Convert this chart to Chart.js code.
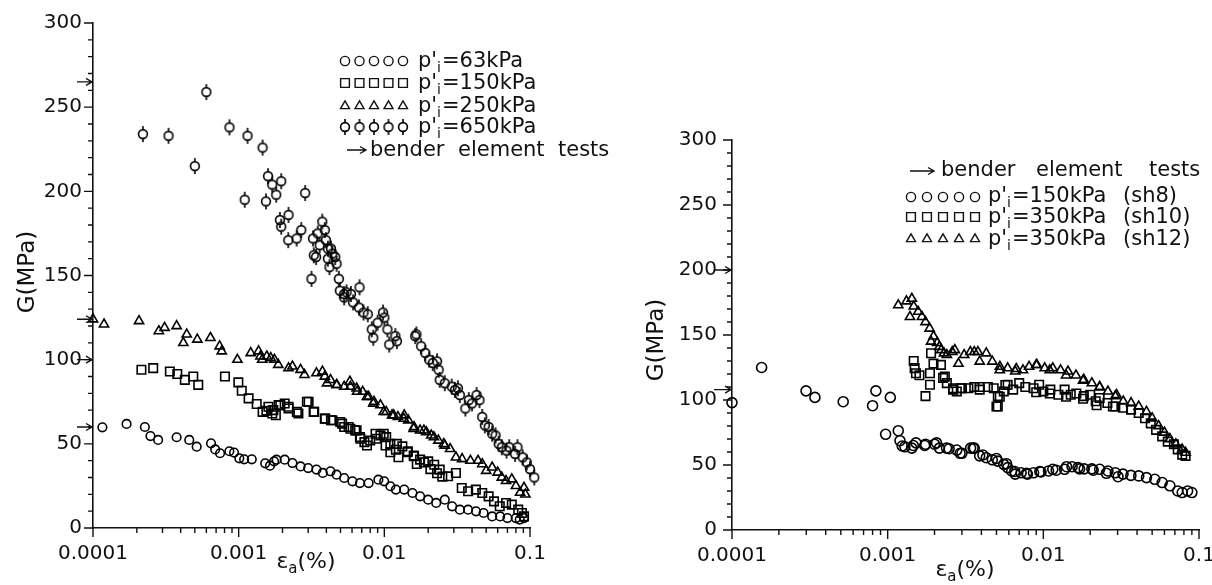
<!DOCTYPE html>
<html>
<head>
<meta charset="utf-8">
<script src="https://cdn.jsdelivr.net/npm/chart.js@4.4.0/dist/chart.umd.min.js"></script>
<style>
html, body { margin: 0; padding: 0; background: #fff; overflow: hidden; width: 1212px; height: 585px; }
.box { position: absolute; top: 0; height: 585px; }
#left { left: 0; width: 640px; }
#right { left: 612px; width: 600px; }
</style>
</head>
<body>
<div class="box" id="left"><canvas id="cLeft"></canvas></div>
<div class="box" id="right"><canvas id="cRight"></canvas></div>
<script>
// axis ticks
const xDecades = [0.0001, 0.001, 0.01, 0.1];
const xTickLabels = ['0.0001', '0.001', '0.01', '0.1'];
const yTicks = [0, 50, 100, 150, 200, 250, 300];

// left panel, [strain %, G MPa]
const left63 = [[1.16e-4,59.8],[1.7e-4,61.8],[2.27e-4,60],[2.48e-4,54.6],[2.8e-4,52.3],[3.75e-4,53.9],[4.58e-4,52.3],[5.15e-4,48.3],
  [6.46e-4,50.3],[6.9e-4,46.7],[7.45e-4,44.4],[8.63e-4,45.6],[9.3e-4,44.8],[1.01e-3,41.4],[1.09e-3,40.8],[1.23e-3,40.8],[1.52e-3,38.4],
  [1.64e-3,37],[1.75e-3,39.6],[1.82e-3,40.6],[2.07e-3,40.6],[2.34e-3,38.6],[2.66e-3,36.6],[3.0e-3,35.6],[3.42e-3,34.7],[3.78e-3,32.7],
  [4.27e-3,33.7],[4.7e-3,31.7],[5.3e-3,29.7],[6.04e-3,27.7],[6.8e-3,26.7],[7.8e-3,26.7],[9.1e-3,28.7],[9.98e-3,27.7],[1.1e-2,24.8],
  [1.2e-2,22.8],[1.37e-2,22.8],[1.56e-2,20.8],[1.76e-2,18.8],[2.0e-2,16.8],[2.27e-2,14.9],[2.6e-2,16.8],[2.92e-2,12.9],[3.3e-2,10.9],
  [3.76e-2,10.9],[4.26e-2,9.9],[4.8e-2,8.9],[5.5e-2,6.9],[6.24e-2,6.9],[7.0e-2,5.9],[8.0e-2,5.9],[8.5e-2,5.0],[9.1e-2,5.9]];
const left150 = [[2.15e-4,94],[2.59e-4,95],[3.37e-4,93],[3.79e-4,91.5],[4.27e-4,88],[4.88e-4,90],[5.28e-4,85],[8.05e-4,90],[9.95e-4,86.5],
  [1.05e-3,81.5],[1.17e-3,77],[1.33e-3,73.7],[1.46e-3,69],[1.55e-3,69.7],[1.6e-3,72],[1.7e-3,68],[1.8e-3,67],[1.88e-3,73],[2.07e-3,74],
  [2.2e-3,71],[2.57e-3,68],[2.94e-3,75],[3.3e-3,69],[3.9e-3,65],[4.4e-3,64],[4.98e-3,63],[5.3e-3,60],[5.85e-3,59],[6.45e-3,58],[6.8e-3,54],
  [7.3e-3,51],[8.0e-3,52],[8.8e-3,53],[9.4e-3,55],[1.03e-2,54],[1.1e-2,50],[1.2e-2,46.5],[1.33e-2,48.5],[1.45e-2,45.5],[1.6e-2,42.6],
  [1.76e-2,40.6],[2.0e-2,39.6],[2.2e-2,37.6],[2.4e-2,34.7],[2.74e-2,30.7],[3.1e-2,32.7],[3.4e-2,23.8],[3.76e-2,21.8],[4.25e-2,22.8],
  [4.7e-2,20.8],[5.2e-2,18.8],[5.66e-2,15.8],[6.2e-2,12.9],[6.85e-2,14.9],[7.5e-2,13.9],[8.3e-2,10.9],[8.8e-2,8.9],[9.1e-2,6.9],
  [1.73e-3,70],[1.93e-3,73],[2.2e-3,72],[2.51e-3,69],[3.02e-3,75],[3.27e-3,69],[3.93e-3,65],[4.3e-3,64],[5.13e-3,62],[5.69e-3,60],
  [6.31e-3,58],[6.85e-3,53],[7.6e-3,49],[8.7e-3,56],[9.9e-3,56],[1.02e-2,49],[1.1e-2,45],[1.22e-2,50],[1.25e-2,42],[1.44e-2,45],
  [1.59e-2,43],[1.67e-2,38],[1.87e-2,39],[2.07e-2,35],[2.3e-2,32.5],[2.5e-2,30.5]];
const left250 = [[1.0e-4,124],[1.19e-4,121],[2.07e-4,123],[2.83e-4,117],[3.1e-4,119],[3.75e-4,120],[4.4e-4,115],[4.17e-4,110],[5.2e-4,112],
  [6.4e-4,113],[7.4e-4,108],[7.65e-4,105],[9.8e-4,100],[1.21e-3,104],[1.37e-3,105],[1.41e-3,102],[1.45e-3,100],[1.56e-3,102],[1.66e-3,101],
  [1.76e-3,100],[1.87e-3,97],[2.2e-3,95],[2.34e-3,96],[2.66e-3,94],[2.83e-3,91],[3.42e-3,92],[3.76e-3,93],[3.9e-3,90],[4.27e-3,88],
  [4.7e-3,85],[5.3e-3,84],[5.8e-3,87],[6.45e-3,83],[7.1e-3,81],[7.8e-3,78],[8.5e-3,75],[9.4e-3,73],[1.03e-2,69],[1.13e-2,67],[1.24e-2,66],
  [1.37e-2,67],[1.46e-2,64],[1.6e-2,60],[1.76e-2,58],[1.94e-2,57],[2.1e-2,55],[2.35e-2,52],[2.6e-2,49],[2.83e-2,47],[3.1e-2,42],
  [3.42e-2,41],[3.9e-2,40],[4.4e-2,40],[4.7e-2,38],[5.0e-2,34],[5.5e-2,36],[6.0e-2,33],[6.4e-2,30],[6.85e-2,28],[7.5e-2,29],[8.0e-2,25],
  [8.55e-2,21],[9.1e-2,24],[9.3e-2,20],
  [4.04e-3,86],[4.72e-3,85],[5.85e-3,84],[6.5e-3,81],[7.6e-3,78],[8.4e-3,74],[9.9e-3,69],[1.16e-2,67],[1.36e-2,65],[1.59e-2,59],
  [1.87e-2,58],[2.19e-2,54],[2.56e-2,50]];
const left650 = [[2.2e-4,234],[3.3e-4,233],[5.0e-4,215],[6.0e-4,259],[8.65e-4,238],[1.15e-3,233],[1.1e-3,195],[1.46e-3,226],[1.59e-3,209],
  [1.7e-3,204],[1.54e-3,194],[1.81e-3,198],[1.96e-3,206],[2.86e-3,199],[1.92e-3,183],[1.96e-3,179],[2.2e-3,186],[2.19e-3,171],[2.5e-3,172],
  [2.69e-3,177],[3.16e-3,148],[3.24e-3,172],[3.28e-3,162],[3.4e-3,161],[3.49e-3,175],[3.75e-3,182],[3.9e-3,177],[3.6e-3,168],[3.97e-3,171],
  [4.1e-3,166],[4.3e-3,166],[4.4e-3,163],[4.1e-3,160],[4.2e-3,155],[4.6e-3,161],[4.7e-3,157],[4.87e-3,148],[4.95e-3,141],[5.3e-3,139],
  [5.5e-3,140],[5.9e-3,139],[6.76e-3,143],[5.3e-3,137],[6.1e-3,134],[6.7e-3,131],[7.2e-3,128],[7.7e-3,127],[8.2e-3,118],[8.4e-3,113],
  [9.0e-3,122],[9.8e-3,128],[1.0e-2,125],[1.05e-2,118],[1.08e-2,109],[1.19e-2,114],[1.22e-2,111],[1.63e-2,114],[1.66e-2,115],[1.79e-2,108],
  [1.91e-2,104],[2.03e-2,100],[2.15e-2,98],[2.3e-2,99],[2.36e-2,94],[2.4e-2,88],[2.6e-2,86],[2.9e-2,84],[3.05e-2,82],[3.2e-2,83],
  [3.3e-2,79],[3.6e-2,71],[3.8e-2,76],[4.0e-2,74],[4.3e-2,79],[4.5e-2,76],[4.7e-2,66],[4.9e-2,61],[5.2e-2,60],[5.5e-2,56],[5.8e-2,55],
  [6.1e-2,50],[6.4e-2,48],[6.9e-2,46],[7.2e-2,48],[7.9e-2,44],[8.2e-2,48],[8.9e-2,42],[9.5e-2,39],[1.0e-1,35],[1.07e-1,30]];
const leftBender = [265, 124, 100, 60];
const leftLegend = ['63kPa', '150kPa', '250kPa', '650kPa'];

// right panel
const rightSh8 = [[1.0e-4,98],[1.55e-4,125],[2.99e-4,107],[3.41e-4,102],[5.18e-4,98.7],[8.0e-4,95.6],[8.4e-4,107],[1.04e-3,102],
  [9.7e-4,73.6],[1.17e-3,76.4],[1.2e-3,68.7],[1.24e-3,64.6],[1.43e-3,63],[1.52e-3,67],[1.75e-3,66],[2.0e-3,66],[2.15e-3,63],[2.48e-3,62.5],
  [2.78e-3,61.5],[3.0e-3,59],[3.41e-3,63],[3.6e-3,63],[3.9e-3,57],[4.3e-3,55.6],[4.7e-3,54],[5.1e-3,53],[5.57e-3,50.5],[5.9e-3,48],
  [6.26e-3,45.4],[6.6e-3,43],[7.2e-3,44],[7.9e-3,43],[8.65e-3,44],[9.66e-3,44.6],[1.08e-2,45.4],[1.21e-2,46],[1.37e-2,46.7],[1.53e-2,48.7],
  [1.67e-2,48],[1.83e-2,47],[2.05e-2,47],[2.3e-2,46.7],[2.6e-2,45.4],[2.9e-2,44],[3.25e-2,43],[3.65e-2,42],[4.1e-2,41.6],[4.6e-2,40.3],
  [5.2e-2,39],[5.8e-2,36.5],[6.5e-2,34],[7.3e-2,30],[7.8e-2,28.8],[8.45e-2,30],[9.0e-2,28.8],
  [1.29e-3,64],[1.46e-3,65],[1.73e-3,65],[2.06e-3,67],[2.39e-3,63],[2.92e-3,59],[3.54e-3,63],[4.09e-3,57.7],[5.0e-3,55],[5.8e-3,51],
  [6.55e-3,45],[7.8e-3,43.6],[9.5e-3,45],[1.15e-2,46.7],[1.41e-2,48.7],[1.71e-2,47],[2.09e-2,46],[2.54e-2,43.6],[3.02e-2,41]];
const rightSh10 = [[1.47e-3,130],[1.49e-3,124.5],[1.52e-3,120.6],[1.6e-3,119],[1.75e-3,103],[1.87e-3,120.6],[1.87e-3,111.7],[1.9e-3,136],
  [1.97e-3,128],[2.2e-3,127],[2.33e-3,118],[2.4e-3,113],[2.63e-3,109],[2.78e-3,106.6],[3.0e-3,109],[3.3e-3,109],[3.6e-3,110],[3.9e-3,108],
  [4.4e-3,110],[4.8e-3,109],[5.1e-3,95],[5.1e-3,103],[5.57e-3,106.6],[5.9e-3,111.7],[6.4e-3,108],[7.0e-3,113],[7.66e-3,110],[8.65e-3,109],
  [9.4e-3,111.7],[1.0e-2,106.6],[1.11e-2,108],[1.25e-2,104],[1.37e-2,108],[1.5e-2,104],[1.63e-2,105],[1.82e-2,103],[2.0e-2,104],
  [2.17e-2,99],[2.3e-2,101.5],[2.58e-2,97.7],[2.9e-2,95],[3.25e-2,94],[3.66e-2,92.6],[4.1e-2,90],[4.5e-2,86],[4.9e-2,82],[5.3e-2,77],
  [5.8e-2,72],[6.3e-2,68],[6.9e-2,66],[7.3e-2,62],[7.8e-2,58],[8.2e-2,57],
  [2.27e-3,117],[2.63e-3,108],[2.95e-3,109],[3.9e-3,110],[5.0e-3,95],[5.25e-3,102.5],[5.7e-3,111.5],[9.0e-3,106],[1.1e-2,105],
  [1.4e-2,102.5],[1.8e-2,101],[2.2e-2,96],[2.8e-2,95]];
const rightSh12 = [[1.17e-3,173],[1.32e-3,176],[1.43e-3,178],[1.47e-3,172],[1.39e-3,164],[1.57e-3,168],[1.66e-3,164],[1.75e-3,160],
  [1.86e-3,155],[1.97e-3,149],[1.9e-3,145],[2.08e-3,144],[2.15e-3,141],[2.21e-3,138.5],[2.3e-3,136],[2.4e-3,134.7],[2.6e-3,137],
  [2.7e-3,138.5],[2.85e-3,128],[3.1e-3,134.7],[3.4e-3,137],[3.6e-3,137],[3.8e-3,137],[3.9e-3,129.6],[4.3e-3,136],[4.7e-3,129.6],
  [5.26e-3,125.7],[5.9e-3,124.5],[6.6e-3,122],[7.4e-3,123],[8.1e-3,125.7],[9.1e-3,127],[1.02e-2,124.5],[1.15e-2,124.5],[1.29e-2,123],
  [1.44e-2,122],[1.62e-2,119],[1.82e-2,115.6],[2.05e-2,113],[2.3e-2,110],[2.6e-2,106.6],[2.9e-2,103],[3.26e-2,99],[3.66e-2,97.7],
  [4.1e-2,95],[4.6e-2,91],[5.0e-2,86],[5.5e-2,80],[6.0e-2,75],[6.5e-2,70],[7.1e-2,66],[7.8e-2,62],[8.2e-2,59.5],
  [5.25e-3,123],[6.7e-3,124],[9.0e-3,127],[1.1e-2,123],[1.4e-2,119],[1.8e-2,115],[2.3e-2,110],[2.95e-2,104]];
const rightBender = [200, 108];
const rightLegend = ['150kPa', '350kPa', '350kPa'];
const rightTags = ['(sh8)', '(sh10)', '(sh12)'];

const FONT = '"DejaVu Sans"';
const INK = '#111';
Chart.defaults.font.family = FONT;
Chart.defaults.color = INK;

// circle with short stubs above and below (650 kPa symbol)
function phiMarker() {
    const c = document.createElement('canvas');
    c.width = 14; c.height = 20;
    const g = c.getContext('2d');
    g.strokeStyle = '#000';
    g.lineWidth = 1.6;
    g.beginPath(); g.arc(7, 10, 4.4, 0, Math.PI * 2); g.stroke();
    g.beginPath();
    g.moveTo(7, 2); g.lineTo(7, 5.6);
    g.moveTo(7, 14.4); g.lineTo(7, 18);
    g.stroke();
    return c;
}
const phi = phiMarker();

function series(pts, style, r) {
    return {
        data: pts.map(p => ({ x: p[0], y: p[1] })),
        pointStyle: style,
        pointRadius: r,
        pointHoverRadius: r,
        pointBorderColor: '#000',
        pointBackgroundColor: 'rgba(0,0,0,0)',
        pointBorderWidth: 1.6,
        showLine: false,
        clip: false
    };
}

function makeScales(yWidth, xHeight, yPad) {
    return {
        x: {
            type: 'logarithmic', min: 1e-4, max: 0.1,
            afterBuildTicks: s => { s.ticks = xDecades.map(v => ({ value: v })); },
            ticks: { callback: (v, i) => xTickLabels[i], font: { size: 20 }, color: INK, padding: 14, maxRotation: 0, autoSkip: false },
            grid: { display: false, drawTicks: false },
            border: { display: true, color: INK, width: 1.6 },
            afterFit: s => { s.height = xHeight; s.paddingLeft = 0; s.paddingRight = 0; }
        },
        y: {
            min: 0, max: 300,
            afterBuildTicks: s => { s.ticks = yTicks.map(v => ({ value: v })); },
            ticks: { font: { size: 20 }, color: INK, padding: yPad },
            grid: { display: false, drawTicks: false },
            border: { display: true, color: INK, width: 1.6 },
            afterFit: s => { s.width = yWidth; s.paddingTop = 0; s.paddingBottom = 0; }
        }
    };
}

function arrow(ctx, x0, x1, y) {
    ctx.beginPath();
    ctx.moveTo(x0, y); ctx.lineTo(x1, y);
    ctx.moveTo(x1 - 6, y - 3.5); ctx.lineTo(x1, y); ctx.lineTo(x1 - 6, y + 3.5);
    ctx.stroke();
}

function drawMark(ctx, style, x, y, r) {
    ctx.beginPath();
    if (style === 'circle') {
        ctx.arc(x, y, r, 0, Math.PI * 2);
    } else if (style === 'rect') {
        const h = r * Math.SQRT1_2;
        ctx.rect(x - h, y - h, 2 * h, 2 * h);
    } else if (style === 'triangle') {
        for (let k = 0; k < 3; k++) {
            const a = k * 2 * Math.PI / 3;
            const px = x + Math.sin(a) * r, py = y - Math.cos(a) * r;
            if (k === 0) ctx.moveTo(px, py); else ctx.lineTo(px, py);
        }
        ctx.closePath();
    } else {
        ctx.drawImage(style, x - style.width / 2, y - style.height / 2);
        return;
    }
    ctx.stroke();
}

// "p'i=..." with a lowered small i
function pressureText(ctx, x, y, value) {
    ctx.font = '21px ' + FONT;
    ctx.fillText("p'", x, y);
    x += ctx.measureText("p'").width;
    ctx.font = '14px ' + FONT;
    ctx.fillText('i', x, y + 5);
    x += ctx.measureText('i').width + 1;
    ctx.font = '21px ' + FONT;
    ctx.fillText('=' + value, x, y);
}

function makeDecor(cfg) {
    return {
        id: 'decor',
        afterDraw(chart) {
            const ctx = chart.ctx, xs = chart.scales.x, ys = chart.scales.y, a = chart.chartArea;
            const off = cfg.offset;
            ctx.save();
            ctx.strokeStyle = INK;
            ctx.fillStyle = INK;
            ctx.lineWidth = 1.4;

            // log minor/major ticks on x, 10 MPa ticks on y
            ctx.beginPath();
            xDecades.forEach(d => {
                for (let m = 1; m <= 9; m++) {
                    const v = d * m;
                    if (v > 0.1001) break;
                    const px = xs.getPixelForValue(v);
                    ctx.moveTo(px, a.bottom);
                    ctx.lineTo(px, a.bottom + (m === 1 ? 9 : 5));
                }
            });
            for (let v = 0; v <= 300; v += 10) {
                const py = ys.getPixelForValue(v);
                ctx.moveTo(a.left, py);
                ctx.lineTo(a.left - (v % 50 === 0 ? 9 : 5), py);
            }
            ctx.stroke();

            // bender element arrows
            cfg.arrows.forEach(v => arrow(ctx, a.left - cfg.arrowLen, a.left - 1, ys.getPixelForValue(v)));

            // legend
            const L = cfg.legend;
            ctx.textBaseline = 'alphabetic';
            ctx.textAlign = 'left';
            ctx.lineWidth = 1.4;
            L.rows.forEach(row => {
                for (let k = 0; k < 5; k++) drawMark(ctx, row.style, L.markX - off + k * L.pitch, row.my, row.r);
                pressureText(ctx, L.textX - off, row.base, row.label);
                if (row.tag) {
                    ctx.font = '21px ' + FONT;
                    ctx.fillText(row.tag, L.tagX - off, row.base);
                }
            });
            arrow(ctx, L.bender.ax0 - off, L.bender.ax1 - off, L.bender.ay);
            ctx.font = '21px ' + FONT;
            ['bender', 'element', 'tests'].forEach((w, k) => ctx.fillText(w, L.bender.words[k] - off, L.bender.base));

            // axis titles
            ctx.save();
            ctx.translate(cfg.yTitle.x - off, cfg.yTitle.y);
            ctx.rotate(-Math.PI / 2);
            ctx.textAlign = 'center';
            ctx.textBaseline = 'middle';
            ctx.font = '23px ' + FONT;
            ctx.fillText('G(MPa)', 0, 0);
            ctx.restore();

            ctx.font = '22px ' + FONT;
            const wE = ctx.measureText('\u03b5').width;
            ctx.font = '15px ' + FONT;
            const wA = ctx.measureText('a').width;
            ctx.font = '22px ' + FONT;
            const wP = ctx.measureText('(%)').width;
            let tx = cfg.xTitle.x - off - (wE + wA + wP) / 2;
            ctx.fillText('\u03b5', tx, cfg.xTitle.y);
            tx += wE;
            ctx.font = '15px ' + FONT;
            ctx.fillText('a', tx, cfg.xTitle.y + 5);
            tx += wA;
            ctx.font = '22px ' + FONT;
            ctx.fillText('(%)', tx, cfg.xTitle.y);
            ctx.restore();
        }
    };
}

function makeChart(id, datasets, scales, pad, decor) {
    return new Chart(document.getElementById(id), {
        type: 'scatter',
        data: { datasets },
        options: {
            responsive: true,
            maintainAspectRatio: false,
            animation: false,
            devicePixelRatio: 1,
            layout: { padding: pad },
            plugins: { legend: { display: false }, tooltip: { enabled: false } },
            scales
        },
        plugins: [decor]
    });
}

makeChart('cLeft', [
    series(left63, 'circle', 4.3),
    series(left150, 'rect', 6),
    series(left250, 'triangle', 5.3),
    series(left650, phi, 4.4)
], makeScales(93, 57, 11), { top: 23, right: 110, left: 0, bottom: 0 }, makeDecor({
    offset: 0,
    arrows: leftBender,
    arrowLen: 16,
    legend: {
        markX: 345, pitch: 14.5, textX: 418,
        rows: [
            { style: 'circle', r: 4.6, my: 61, base: 67, label: leftLegend[0] },
            { style: 'rect', r: 6.2, my: 83, base: 89, label: leftLegend[1] },
            { style: 'triangle', r: 5.2, my: 106, base: 112, label: leftLegend[2] },
            { style: phi, r: 4.4, my: 127, base: 133, label: leftLegend[3] }
        ],
        bender: { ax0: 347, ax1: 366, ay: 150, base: 156, words: [370, 458, 558] }
    },
    yTitle: { x: 28, y: 272 },
    xTitle: { x: 306, y: 568 }
}));

makeChart('cRight', [
    series(rightSh8, 'circle', 5),
    series(rightSh10, 'rect', 6),
    series(rightSh12, 'triangle', 5.3)
], makeScales(120, 55, 15), { top: 140, right: 13, left: 0, bottom: 0 }, makeDecor({
    offset: 612,
    arrows: rightBender,
    arrowLen: 18,
    legend: {
        markX: 911, pitch: 16, textX: 988, tagX: 1123,
        rows: [
            { style: 'circle', r: 4.6, my: 197, base: 202, label: rightLegend[0], tag: rightTags[0] },
            { style: 'rect', r: 6.2, my: 217, base: 223, label: rightLegend[1], tag: rightTags[1] },
            { style: 'triangle', r: 5.2, my: 239, base: 245, label: rightLegend[2], tag: rightTags[2] }
        ],
        bender: { ax0: 910, ax1: 934, ay: 171, base: 176, words: [941, 1036, 1149] }
    },
    yTitle: { x: 657, y: 340 },
    xTitle: { x: 965, y: 576 }
}));
</script>
</body>
</html>
